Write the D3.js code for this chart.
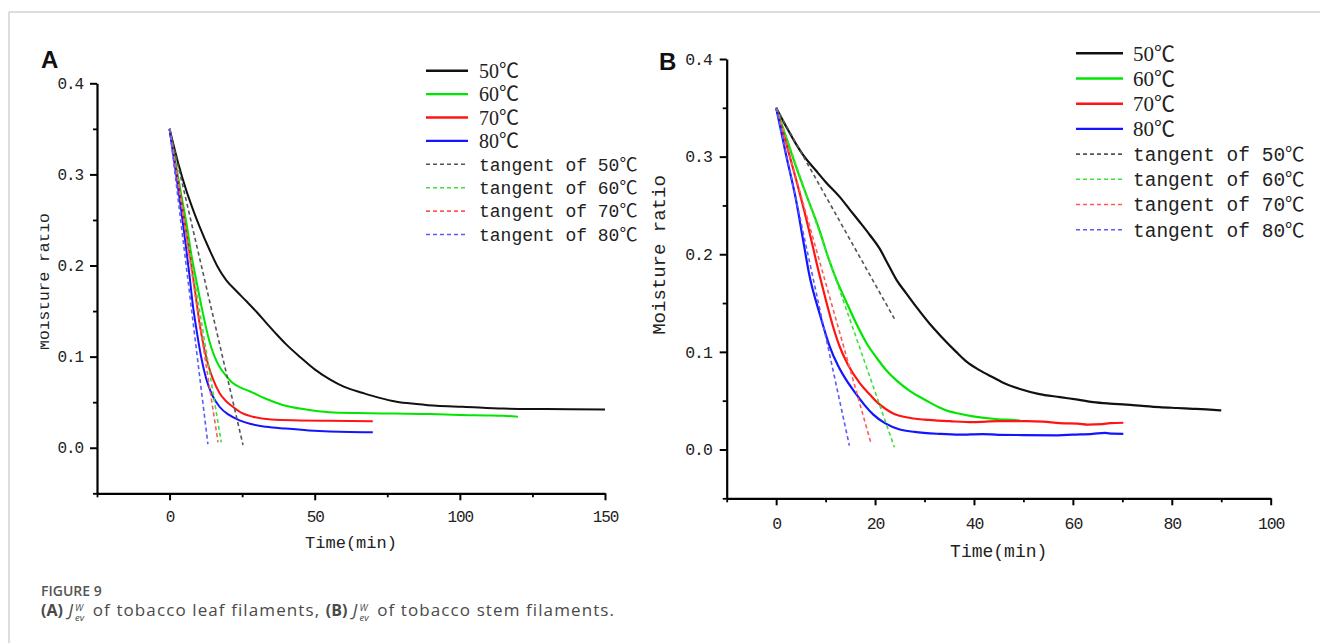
<!DOCTYPE html>
<html>
<head>
<meta charset="utf-8">
<script src="https://cdn.jsdelivr.net/npm/d3@7"></script>
<style>
  body { margin: 0; background: #fff; }
  svg { display: block; }
</style>
</head>
<body>
<svg width="1320" height="643"></svg>
<script>
// legend names
const seriesNames = ["50℃", "60℃", "70℃", "80℃"];
const tangentNames = ["tangent of 50℃", "tangent of 60℃", "tangent of 70℃", "tangent of 80℃"];

// (A) tobacco leaf filaments: [time (min), moisture ratio]
const leaf50 = [[0,0.35],[1,0.337],[3,0.312],[5.7,0.283],[8,0.262],[10.3,0.243],[13.8,0.217],[16.5,0.199],[19.5,0.184],[23,0.172],[26.4,0.161],[30,0.149],[33.3,0.137],[37,0.124],[40,0.114],[44.8,0.1],[50,0.086],[55.2,0.075],[60,0.067],[66.7,0.06],[72,0.055],[78.2,0.0505],[85,0.048],[92,0.046],[101,0.045],[115,0.043],[130,0.0425],[150,0.042]];
const leaf60 = [[0,0.35],[2,0.314],[4,0.278],[6,0.243],[7.4,0.214],[9.2,0.184],[10.3,0.166],[12,0.14],[13.8,0.116],[15.5,0.1],[17.2,0.089],[19.5,0.079],[21.8,0.071],[24.5,0.066],[27.6,0.062],[33,0.054],[39,0.047],[47,0.042],[55,0.039],[65,0.038],[78,0.0375],[90,0.037],[100,0.036],[110,0.0355],[115,0.035],[120,0.034]];
const leaf70 = [[0,0.35],[2,0.311],[4,0.272],[6,0.232],[8,0.19],[9.2,0.162],[10.3,0.137],[12,0.108],[13.5,0.089],[15,0.075],[17.2,0.06],[19.5,0.051],[21.8,0.045],[25,0.038],[28.7,0.034],[35,0.031],[44.8,0.03],[55,0.0295],[70,0.029]];
const leaf80 = [[0,0.35],[2,0.306],[4,0.261],[5.5,0.224],[6.9,0.188],[8,0.157],[9.2,0.131],[10.8,0.101],[12.6,0.076],[14.5,0.059],[17.2,0.045],[20.5,0.036],[24.1,0.03],[28,0.026],[33.3,0.023],[40,0.021],[48,0.019],[55.2,0.0178],[62,0.0172],[70,0.017]];
// tangent end points [time, moisture ratio], each starting at [0, 0.35]
const leafTangentEnds = [[25.3,0.003],[17.8,0.006],[16.7,0.006],[13.2,0.004]];

// (B) tobacco stem filaments
const stem50 = [[0,0.35],[2,0.331],[4,0.313],[5.4,0.302],[8,0.286],[10,0.274],[12.8,0.259],[15,0.245],[16.9,0.233],[18.9,0.22],[20.9,0.206],[22.6,0.19],[24.3,0.174],[26.3,0.16],[28.5,0.145],[31,0.129],[33.5,0.115],[36.4,0.1],[38.5,0.09],[41.2,0.081],[43.8,0.074],[46.5,0.067],[49.3,0.062],[53,0.057],[57.4,0.0536],[61,0.051],[64.1,0.0485],[67.5,0.047],[70.8,0.046],[74,0.0447],[77.5,0.0434],[81,0.0425],[84.3,0.0417],[87,0.041],[90,0.04]];
const stem60 = [[0,0.35],[2,0.32],[4,0.29],[6,0.262],[8.8,0.224],[10.5,0.197],[12.1,0.175],[14.2,0.151],[16.2,0.129],[18.5,0.107],[20.3,0.094],[22.3,0.081],[24.5,0.07],[27,0.06],[30.4,0.05],[33,0.043],[35,0.039],[37.1,0.0366],[39.8,0.034],[43.8,0.0315],[46.5,0.0305],[49.3,0.0297]];
const stem70 = [[0,0.35],[2,0.314],[4,0.277],[6,0.238],[8.8,0.178],[10.1,0.152],[11.5,0.126],[12.8,0.106],[14.5,0.087],[16.9,0.068],[19,0.056],[20.5,0.048],[22.3,0.041],[24,0.036],[26.3,0.033],[30,0.0305],[35,0.029],[39.8,0.028],[45,0.029],[50.6,0.029],[54,0.0285],[57.4,0.027],[61,0.0265],[63,0.0255],[66,0.026],[67.5,0.027],[70.2,0.0274]];
const stem80 = [[0,0.35],[2,0.302],[4,0.256],[5.5,0.213],[6.7,0.179],[8.8,0.139],[10.8,0.106],[12.5,0.086],[14.2,0.071],[16,0.058],[17.8,0.046],[19.6,0.036],[22,0.027],[25,0.0205],[28,0.018],[33,0.016],[37,0.0152],[41.7,0.0158],[45,0.015],[50,0.0148],[57,0.0145],[60,0.0152],[64,0.016],[66.5,0.017],[68,0.0162],[70.2,0.016]];
const stemTangentEnds = [[23.9,0.134],[23.9,0.0024],[19.2,0.006],[14.8,0.004]];

// tick values
const leafXTicks = [0, 50, 100, 150];
const leafXMinor = [-25, 25, 75, 125];
const stemXTicks = [0, 20, 40, 60, 80, 100];
const stemXMinor = [-10, 10, 30, 50, 70, 90];
const yTicks = [0, 0.1, 0.2, 0.3, 0.4];
const yMinor = [-0.05, 0.05, 0.15, 0.25, 0.35];

const lineColors = ["#111", "#00e600", "#ff1414", "#1414ff"];
const dashColors = ["#555", "#3de03d", "#ff5a5a", "#5a5aff"];

const svg = d3.select("svg");
const mono = "'Liberation Mono', 'Noto Sans CJK SC', monospace";
const serif = "'Liberation Serif', 'Noto Sans CJK SC', serif";

// light frame of the figure
svg.append("line").attr("x1", 9).attr("x2", 1320).attr("y1", 12).attr("y2", 12)
  .attr("stroke", "#d2d2d2").attr("stroke-width", 1.5);
svg.append("line").attr("x1", 9).attr("x2", 9).attr("y1", 12).attr("y2", 643)
  .attr("stroke", "#d2d2d2").attr("stroke-width", 1.5);

// the leaf panel's y title is cut off at the left in the source figure
svg.append("defs").append("clipPath").attr("id", "clipA")
  .append("rect").attr("x", 40.5).attr("y", 0).attr("width", 60).attr("height", 643);

function drawPanel(p) {
  const g = svg.append("g");
  const x = d3.scaleLinear().domain(p.xDomain).range([p.left, p.right]);
  const y = d3.scaleLinear().domain([-0.05, 0.4]).range([p.bottom, p.top]);

  // minor ticks
  g.append("g").attr("transform", `translate(0,${p.bottom})`)
    .call(d3.axisBottom(x).tickValues(p.xMinor).tickFormat("").tickSize(4).tickSizeOuter(0))
    .call(a => a.select(".domain").remove())
    .selectAll("line").attr("stroke-width", 1.8);
  g.append("g").attr("transform", `translate(${p.left},0)`)
    .call(d3.axisLeft(y).tickValues(yMinor).tickFormat("").tickSize(4).tickSizeOuter(0))
    .call(a => a.select(".domain").remove())
    .selectAll("line").attr("stroke-width", 1.8);

  const xa = g.append("g").attr("transform", `translate(0,${p.bottom})`)
    .call(d3.axisBottom(x).tickValues(p.xTicks).tickSize(7).tickSizeOuter(0).tickPadding(p.xPad));
  const ya = g.append("g").attr("transform", `translate(${p.left},0)`)
    .call(d3.axisLeft(y).tickValues(yTicks).tickFormat(d3.format(".1f")).tickSize(7).tickSizeOuter(0).tickPadding(p.yPad));
  [xa, ya].forEach(a => {
    a.select(".domain").attr("stroke-width", 2.2);
    a.selectAll(".tick line").attr("stroke-width", 2);
    a.selectAll("text").attr("font-family", mono).attr("font-size", p.tickSize)
      .attr("letter-spacing", -1.1).attr("fill", "#222");
  });

  const line = d3.line().x(d => x(d[0])).y(d => y(d[1])).curve(d3.curveMonotoneX);
  p.series.forEach((s, i) => {
    g.append("path").datum(s).attr("d", line).attr("fill", "none")
      .attr("stroke", lineColors[i]).attr("stroke-width", p.lineW).attr("stroke-linejoin", "round");
  });
  p.tangents.forEach((e, i) => {
    g.append("path").datum([[0, 0.35], e]).attr("d", line).attr("fill", "none")
      .attr("stroke", dashColors[i]).attr("stroke-width", 1.6).attr("stroke-dasharray", "4,3");
  });

  // axis titles
  g.append("text").attr("x", (p.left + p.right) / 2).attr("y", p.xLabelY)
    .attr("text-anchor", "middle").attr("font-family", mono).attr("font-size", p.labelSize)
    .attr("fill", "#222").text("Time(min)");
  const yg = g.append("g").attr("clip-path", p.clip ? `url(#${p.clip})` : null);
  yg.append("text")
    .attr("transform", `translate(${p.yLabelX},${p.yLabelMid}) rotate(-90)`)
    .attr("text-anchor", "middle").attr("font-family", mono).attr("font-size", p.yLabelSize)
    .attr("fill", "#222").text("Moisture ratio");

  // panel letter
  g.append("text").attr("x", p.letterX).attr("y", p.letterY)
    .attr("font-family", "'Liberation Sans', Arial, sans-serif").attr("font-weight", "bold")
    .attr("font-size", 24).attr("fill", "#111").text(p.letter);

  // legend
  const names = seriesNames.concat(tangentNames);
  names.forEach((n, i) => {
    const cy = p.legY + i * p.legStep;
    const dashed = i >= 4;
    g.append("line").attr("x1", p.legX).attr("x2", p.legX + p.legLen).attr("y1", cy).attr("y2", cy)
      .attr("stroke", dashed ? dashColors[i - 4] : lineColors[i])
      .attr("stroke-width", dashed ? 1.6 : 2.4)
      .attr("stroke-dasharray", dashed ? "4,3" : null);
    g.append("text").attr("x", p.legX + p.legLen + p.legGap).attr("y", cy).attr("dy", "0.35em")
      .attr("font-family", dashed ? mono : serif)
      .attr("font-size", dashed ? p.legMono : p.legSerif)
      .attr("fill", "#222").text(n);
  });
}

drawPanel({
  letter: "A", letterX: 41, letterY: 67.5,
  left: 97, right: 605, top: 83.3, bottom: 493.3,
  xDomain: [-25, 150], xTicks: leafXTicks, xMinor: leafXMinor,
  xPad: 10, yPad: 7, tickSize: 16, lineW: 2,
  series: [leaf50, leaf60, leaf70, leaf80], tangents: leafTangentEnds,
  xLabelY: 548, labelSize: 17,
  yLabelX: 48.5, yLabelMid: 281.5, yLabelSize: 16.3, clip: "clipA",
  legX: 426, legLen: 42, legGap: 11, legY: 70.7, legStep: 23.4, legSerif: 20, legMono: 18
});

drawPanel({
  letter: "B", letterX: 659, letterY: 69.5,
  left: 726.7, right: 1270.7, top: 59, bottom: 498.3,
  xDomain: [-10, 100], xTicks: stemXTicks, xMinor: stemXMinor,
  xPad: 12, yPad: 8, tickSize: 16.5, lineW: 2.2,
  series: [stem50, stem60, stem70, stem80], tangents: stemTangentEnds,
  xLabelY: 557, labelSize: 18,
  yLabelX: 665, yLabelMid: 255, yLabelSize: 19,
  legX: 1076, legLen: 47, legGap: 10, legY: 53.3, legStep: 25.2, legSerif: 21, legMono: 19.5
});

// caption
const cap = svg.append("g").attr("font-family", "'Open Sans', sans-serif");
cap.append("text").attr("x", 41).attr("y", 596).attr("font-size", 14).attr("font-weight", 600)
  .attr("fill", "#555").text("FIGURE 9");

const line2 = cap.append("text").attr("x", 41).attr("y", 616).attr("font-size", 17)
  .attr("fill", "#4a4a4a").attr("xml:space", "preserve");
function span(str, o = {}) {
  return line2.append("tspan").text(str)
    .attr("font-size", o.size || null)
    .attr("font-weight", o.bold ? 700 : null)
    .attr("font-style", o.italic ? "italic" : null)
    .attr("letter-spacing", o.bold || o.size ? 0 : 1.1);
}
// J with stacked W (sup) and ev (sub)
function jw(after) {
  span("J", { italic: true });
  const w = span("W", { italic: true, size: 9.5 }).attr("dx", 1).attr("dy", -5.5);
  const wl = w.node().getComputedTextLength();
  const e = span("ev", { italic: true, size: 9.5 }).attr("dx", -wl).attr("dy", 10.5);
  const el = e.node().getComputedTextLength();
  span(after).attr("dx", Math.max(0, wl - el) + 3).attr("dy", -5);
}
span("(A)", { bold: true, size: 16 });
span(" ");
jw(" of tobacco leaf filaments, ");
span("(B)", { bold: true, size: 16 });
span(" ");
jw(" of tobacco stem filaments.");
</script>
</body>
</html>
